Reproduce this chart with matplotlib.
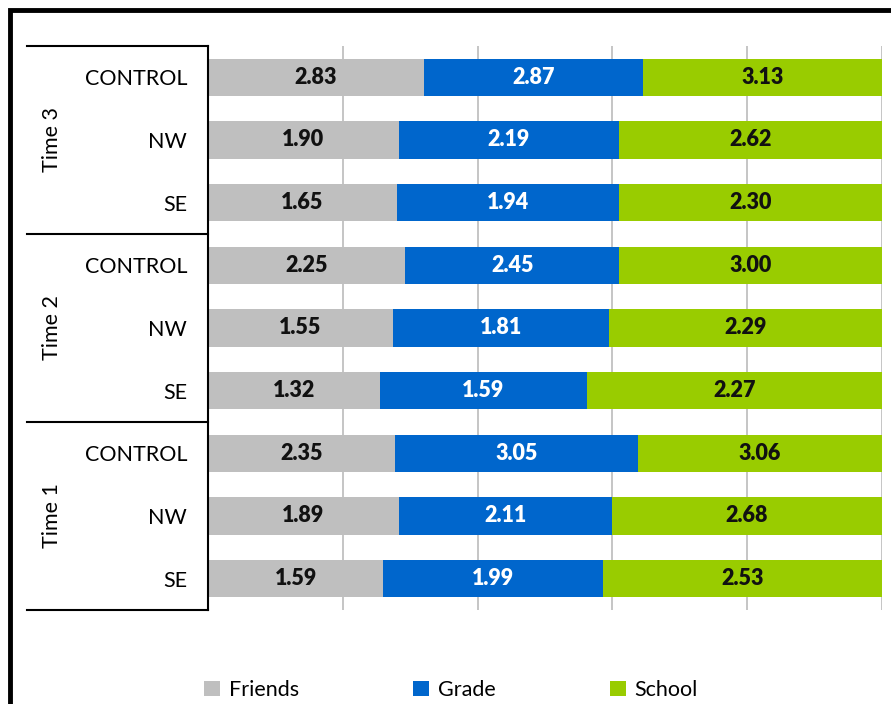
import matplotlib.pyplot as plt
from matplotlib.patches import Patch, Rectangle
import matplotlib.transforms as mtransforms

plt.rcParams['font.family'] = ['Lato', 'DejaVu Sans']

# Data (top to bottom)
groups = ["Time 3", "Time 2", "Time 1"]
conditions = ["CONTROL", "NW", "SE"]
friends = [2.83, 1.90, 1.65, 2.25, 1.55, 1.32, 2.35, 1.89, 1.59]
grade = [2.87, 2.19, 1.94, 2.45, 1.81, 1.59, 3.05, 2.11, 1.99]
school = [3.13, 2.62, 2.30, 3.00, 2.29, 2.27, 3.06, 2.68, 2.53]
series_names = ["Friends", "Grade", "School"]
colors = ["#BFBFBF", "#0066CC", "#99CC00"]
text_colors = ["#111111", "white", "#111111"]

FS = 15.5

fig = plt.figure(figsize=(8.91, 7.04), dpi=100)
ax = fig.add_axes([208 / 891, 1 - 610 / 704, 674 / 891, 564 / 704])

labels = [c for g in groups for c in conditions]
ypos = list(range(len(labels)))
totals = [f + g + s for f, g, s in zip(friends, grade, school)]

left = [0.0] * len(labels)
for vals, col, tcol in zip([friends, grade, school], colors, text_colors):
    widths = [v / t for v, t in zip(vals, totals)]
    ax.barh(ypos, widths, left=left, height=0.6, color=col, zorder=2)
    for y, l, w, v in zip(ypos, left, widths, vals):
        ax.text(l + w / 2, y, f"{v:.2f}", ha="center", va="center",
                color=tcol, fontsize=FS, fontweight="heavy", zorder=3)
    left = [l + w for l, w in zip(left, widths)]

ax.set_xlim(0, 1)
ax.set_ylim(len(labels) - 0.5, -0.5)
ax.set_xticks([0, 0.2, 0.4, 0.6, 0.8, 1.0])
ax.set_xticklabels([])
ax.tick_params(axis="x", length=0)
ax.grid(axis="x", color="#BBBBBB", linewidth=1.2, zorder=0)
ax.set_yticks(ypos)
ax.set_yticklabels(labels, fontsize=FS)
ax.tick_params(axis="y", length=0, pad=15)
for s in ["top", "right", "bottom"]:
    ax.spines[s].set_visible(False)
ax.spines["left"].set_color("black")
ax.spines["left"].set_linewidth(1.5)

# group dividers and group labels
trans = mtransforms.blended_transform_factory(ax.transAxes, ax.transData)
for b in [-0.5, 2.5, 5.5, 8.5]:
    ax.plot([-0.2686, 0], [b, b], transform=trans, color="black",
            linewidth=1.5, clip_on=False)
for i, g in enumerate(groups):
    ax.text(-0.2315, i * 3 + 1, g, transform=trans, rotation=90,
            ha="center", va="center", fontsize=FS)

# legend
handles = [Patch(facecolor=c, edgecolor="none") for c in colors]
fig.legend(handles, series_names, loc="center", ncol=3,
           bbox_to_anchor=(0.506, 1 - 690 / 704), frameon=False,
           fontsize=FS, handlelength=0.75, handleheight=0.75,
           handletextpad=0.4, columnspacing=5.3)

# outer frame (cropped at right and bottom)
fig.patches.append(Rectangle((10 / 891, -0.2), 1.2, 1.2 - 10 / 704,
                             transform=fig.transFigure, fill=False,
                             edgecolor="black", linewidth=3.5))

fig.savefig("out.png", dpi=100)
